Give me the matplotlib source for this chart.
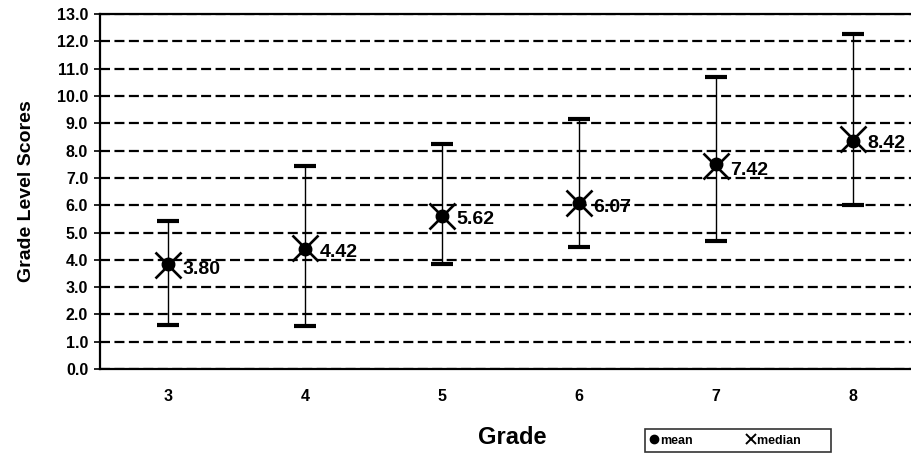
import matplotlib
matplotlib.use("Agg")
import matplotlib.pyplot as plt
from matplotlib.lines import Line2D

grades = ["3", "4", "5", "6", "7", "8"]
means = [3.85, 4.40, 5.62, 6.10, 7.50, 8.35]
medians = [3.80, 4.42, 5.62, 6.07, 7.42, 8.42]
lows = [1.63, 1.57, 3.85, 4.47, 4.70, 6.02]
highs = [5.42, 7.43, 8.25, 9.15, 10.70, 12.28]
labels = ["3.80", "4.42", "5.62", "6.07", "7.42", "8.42"]
yticks = [float(v) for v in range(0, 14)]

plt.rcParams['font.family'] = ['Liberation Sans', 'DejaVu Sans']

fig = plt.figure(figsize=(9.11, 4.54), dpi=100)
ax = fig.add_axes([0.1098, 0.187, 0.9017, 0.782])

x = list(range(len(grades)))
yerr_low = [m - l for m, l in zip(medians, lows)]
yerr_high = [h - m for m, h in zip(medians, highs)]
ax.errorbar(x, medians, yerr=[yerr_low, yerr_high], fmt='none', ecolor='black',
            elinewidth=1.0, capsize=8, capthick=3, zorder=3)
ax.plot(x, means, linestyle='none', marker='o', markersize=9, color='black', zorder=4)
ax.plot(x, medians, linestyle='none', marker='x', markersize=19, markeredgewidth=1.9,
        color='black', zorder=5)
for xi, yi, lab in zip(x, medians, labels):
    ax.annotate(lab, (xi, yi), xytext=(10, -3), textcoords='offset points',
                ha='left', va='center', fontsize=14, fontweight='bold', zorder=6)

ax.set_xlim(-0.5, len(grades) - 0.5)
ax.set_ylim(0, 13)
ax.set_yticks(yticks)
ax.set_yticklabels([f"{v:.1f}" for v in yticks], fontsize=11.5, fontweight='bold')
ax.set_xticks(x)
ax.set_xticklabels(grades, fontsize=11.5, fontweight='bold')
ax.tick_params(axis='x', length=0, pad=14)
ax.tick_params(axis='y', direction='inout', length=9, width=1.2, pad=4)
ax.yaxis.grid(True, linestyle=(0, (4.5, 2)), color='black', linewidth=1.6)
ax.set_axisbelow(True)
for s in ['left', 'bottom', 'top']:
    ax.spines[s].set_linewidth(1.6)
ax.spines['right'].set_visible(False)

ax.set_ylabel("Grade Level Scores", fontsize=14, fontweight='bold', labelpad=16)
fig.text(0.562, 0.012, "Grade", fontsize=17, fontweight='bold', ha='center', va='bottom')

handles = [Line2D([], [], linestyle='none', marker='o', markersize=6, color='black'),
           Line2D([], [], linestyle='none', marker='x', markersize=7, markeredgewidth=1.4, color='black')]
leg = fig.legend(handles, ["mean", "median       "], loc='lower left', bbox_to_anchor=(0.708, 0.004),
                 ncol=2, frameon=True, fancybox=False, edgecolor='black',
                 prop={'weight': 'bold', 'size': 9}, handlelength=0.6, handletextpad=0.15,
                 columnspacing=4.4, borderpad=0.45, borderaxespad=0)
leg.get_frame().set_linewidth(1.2)

fig.savefig("out.png", dpi=100)
